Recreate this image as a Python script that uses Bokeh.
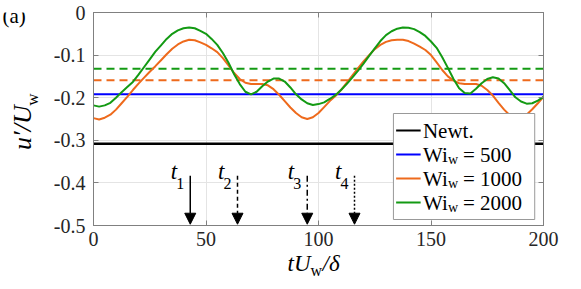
import numpy as np
from bokeh.plotting import figure
from bokeh.layouts import row, column
from bokeh.models import FixedTicker, LinearAxis, Label, Arrow, NormalHead, Range1d
from bokeh.embed import file_html
from bokeh.resources import INLINE

# ---------------- data ----------------
t = list(np.arange(0, 200.01, 2.5))
u_wi2000 = [-0.218, -0.221, -0.218, -0.212, -0.200, -0.187, -0.175, -0.163, -0.146, -0.128,
            -0.110, -0.092, -0.077, -0.062, -0.050, -0.042, -0.037, -0.035, -0.037, -0.043,
            -0.050, -0.062, -0.076, -0.095, -0.118, -0.145, -0.168, -0.186, -0.192, -0.186,
            -0.173, -0.162, -0.155, -0.155, -0.162, -0.176, -0.192, -0.204, -0.213, -0.217,
            -0.215, -0.211, -0.203, -0.194, -0.182, -0.168, -0.153, -0.137, -0.120, -0.102,
            -0.084, -0.067, -0.053, -0.044, -0.038, -0.035, -0.036, -0.039, -0.046, -0.055,
            -0.068, -0.083, -0.105, -0.130, -0.156, -0.178, -0.189, -0.190, -0.179, -0.166,
            -0.156, -0.152, -0.155, -0.166, -0.182, -0.199, -0.209, -0.214, -0.213, -0.207,
            -0.198]
u_wi1000 = [-0.248, -0.251, -0.247, -0.240, -0.228, -0.213, -0.198, -0.182, -0.167, -0.153,
            -0.139, -0.126, -0.112, -0.098, -0.085, -0.075, -0.068, -0.064, -0.065, -0.070,
            -0.076, -0.084, -0.093, -0.107, -0.124, -0.142, -0.156, -0.165, -0.168, -0.168,
            -0.168, -0.171, -0.180, -0.193, -0.208, -0.223, -0.236, -0.246, -0.250, -0.246,
            -0.236, -0.222, -0.208, -0.196, -0.182, -0.165, -0.148, -0.131, -0.115, -0.100,
            -0.086, -0.076, -0.069, -0.065, -0.064, -0.064, -0.067, -0.073, -0.080, -0.088,
            -0.100, -0.117, -0.135, -0.150, -0.160, -0.166, -0.168, -0.168, -0.168, -0.172,
            -0.182, -0.195, -0.212, -0.228, -0.241, -0.249, -0.249, -0.240, -0.227, -0.213,
            -0.198]
u_newt = -0.308
u_wi500 = -0.192
u_wi1000_mean = -0.159
u_wi2000_mean = -0.132

arrow_t = [43, 64, 95, 116]
arrow_sub = ["1", "2", "3", "4"]
arrow_dash = ["solid", "4 3", "6 3 2 3", "2 2"]

xticks = [0, 50, 100, 150, 200]
xtick_labels = ["0", "50", "100", "150", "200"]
yticks = [0, -0.1, -0.2, -0.3, -0.4, -0.5]
ytick_labels = ["0", "-0.1", "-0.2", "-0.3", "-0.4", "-0.5"]

legend_text = ["Newt.", "500", "1000", "2000"]

BLACK = "#000000"
BLUE = "#0000ff"
ORANGE = "#ee6a1c"
GREEN = "#139a13"
AXC = "#808080"
TXT = "#262626"
FONT = "Liberation Serif"

# ---------------- layout sizes ----------------
LW = 45            # left strip (y label, panel tag)
MW, MH = 528, 251  # main figure
BH = 30            # bottom strip (x label)
FW, FH = 450, 213
BL, BT = 48, 12
px_x = 200.0 / FW
px_y = 0.5 / FH

p = figure(width=MW, height=MH, x_range=Range1d(0, 200), y_range=Range1d(-0.5, 0),
           output_backend="svg", toolbar_location=None,
           min_border_left=BL, min_border_right=MW - BL - FW,
           min_border_top=BT, min_border_bottom=MH - BT - FH)
p.background_fill_color = "white"
p.border_fill_color = "white"
p.outline_line_color = AXC
p.outline_line_width = 1

def style_axis(ax, ticks, labels, show):
    ax.ticker = FixedTicker(ticks=ticks)
    ax.major_tick_in = 5
    ax.major_tick_out = 0
    ax.minor_tick_in = 0
    ax.minor_tick_out = 0
    ax.axis_line_color = AXC
    ax.major_tick_line_color = AXC
    ax.major_label_text_font = FONT
    ax.major_label_text_font_size = "20px"
    ax.major_label_text_color = TXT
    if show:
        ax.major_label_overrides = {k: v for k, v in zip(ticks, labels)}
    else:
        ax.major_label_overrides = {k: "" for k in ticks}
        ax.major_label_standoff = 0

style_axis(p.xaxis[0], xticks, xtick_labels, True)
p.xaxis[0].major_label_standoff = 6
style_axis(p.yaxis[0], yticks, ytick_labels, True)
p.yaxis[0].major_label_standoff = 8
ax_r = LinearAxis()
style_axis(ax_r, yticks, ytick_labels, False)
p.add_layout(ax_r, "right")
ax_t = LinearAxis()
style_axis(ax_t, xticks, xtick_labels, False)
p.add_layout(ax_t, "above")

p.xgrid.ticker = FixedTicker(ticks=xticks)
p.ygrid.ticker = FixedTicker(ticks=yticks)
p.xgrid.grid_line_color = "#e4e4e4"
p.ygrid.grid_line_color = "#e4e4e4"

x_ends = [t[0], t[-1]]
p.line(x_ends, [u_newt] * 2, line_color=BLACK, line_width=2.5)
p.line(x_ends, [u_wi500] * 2, line_color=BLUE, line_width=2)
p.line(x_ends, [u_wi1000_mean] * 2, line_color=ORANGE, line_width=2, line_dash="8 5")
p.line(x_ends, [u_wi2000_mean] * 2, line_color=GREEN, line_width=2, line_dash="8 5")
p.line(t, u_wi1000, line_color=ORANGE, line_width=2)
p.line(t, u_wi2000, line_color=GREEN, line_width=2)

# arrows
for at, sub, dash in zip(arrow_t, arrow_sub, arrow_dash):
    p.add_layout(Arrow(x_start=at, y_start=-0.383, x_end=at, y_end=-0.497,
                       line_color=BLACK, line_width=1.5, line_dash=dash,
                       end=NormalHead(size=11, fill_color=BLACK, line_color=BLACK, line_width=1)))
    p.add_layout(Label(x=at, y=-0.402, text="t", text_font=FONT, text_font_size="23px",
                       text_font_style="italic", text_align="right", x_offset=-13, text_color=BLACK))
    p.add_layout(Label(x=at, y=-0.402 - 5 * px_y, text=sub, text_font=FONT, text_font_size="16px",
                       text_align="right", x_offset=-6, text_color=BLACK))

# legend (custom, to allow subscripts)
box_top_px, row0_px, row_step, box_bot_px = 101, 118, 24, 207
leg_left, leg_right, line_x1, text_x = 133.3, 196.1, 145.4, 146.4
row_y = [-(row0_px + i * row_step) * px_y for i in range(4)]
p.quad(left=[leg_left], right=[leg_right], top=[-box_top_px * px_y],
       bottom=[-box_bot_px * px_y],
       fill_color="white", line_color="#999999", line_width=1)
p.segment(x0=[leg_left + 1.2] * 4, x1=[line_x1] * 4, y0=row_y, y1=row_y,
          line_color=[BLACK, BLUE, ORANGE, GREEN], line_width=2)
p.add_layout(Label(x=text_x, y=row_y[0], text=legend_text[0], text_font=FONT,
                   text_font_size="21px", text_baseline="middle", text_color=BLACK))
for ry, val in zip(row_y[1:], legend_text[1:]):
    p.add_layout(Label(x=text_x, y=ry, text="Wi", text_font=FONT, text_font_size="21px",
                       text_baseline="middle", text_color=BLACK))
    p.add_layout(Label(x=text_x, y=ry - 5 * px_y, text="w", text_font=FONT, text_font_size="14px",
                       text_baseline="middle", x_offset=25, text_color=BLACK))
    p.add_layout(Label(x=text_x, y=ry, text="= " + val, text_font=FONT, text_font_size="21px",
                       text_baseline="middle", x_offset=40, text_color=BLACK))

# ---------------- strips holding the axis titles (pixel ranges) ----------------
def strip(w, h):
    f = figure(width=w, height=h, x_range=Range1d(0, w), y_range=Range1d(0, h),
               x_axis_type=None, y_axis_type=None, output_backend="svg",
               toolbar_location=None, min_border=0)
    f.outline_line_color = None
    f.grid.visible = False
    f.background_fill_color = "white"
    f.border_fill_color = "white"
    return f

def lab(f, x, y, text, size, style="normal", angle=0.0):
    f.add_layout(Label(x=x, y=y, text=text, text_font=FONT, text_font_size=f"{size}px",
                       text_font_style=style, angle=angle, text_color=BLACK))

left = strip(LW, MH)
lab(left, 2, MH - 18, "(a)", 21)
lab(left, 36, MH - 162, "u′/U", 26, "italic", np.pi / 2)
lab(left, 41, MH - 110, "w", 17, "normal", np.pi / 2)

W = LW + MW
bottom = strip(W, BH)
lab(bottom, 287, 6, "tU", 23, "italic")
lab(bottom, 310, 3, "w", 16)
lab(bottom, 322, 6, "/δ", 23, "italic")

layout = column(row(left, p, spacing=0), bottom, spacing=0)

open("out.html", "w").write(file_html(layout, INLINE))
